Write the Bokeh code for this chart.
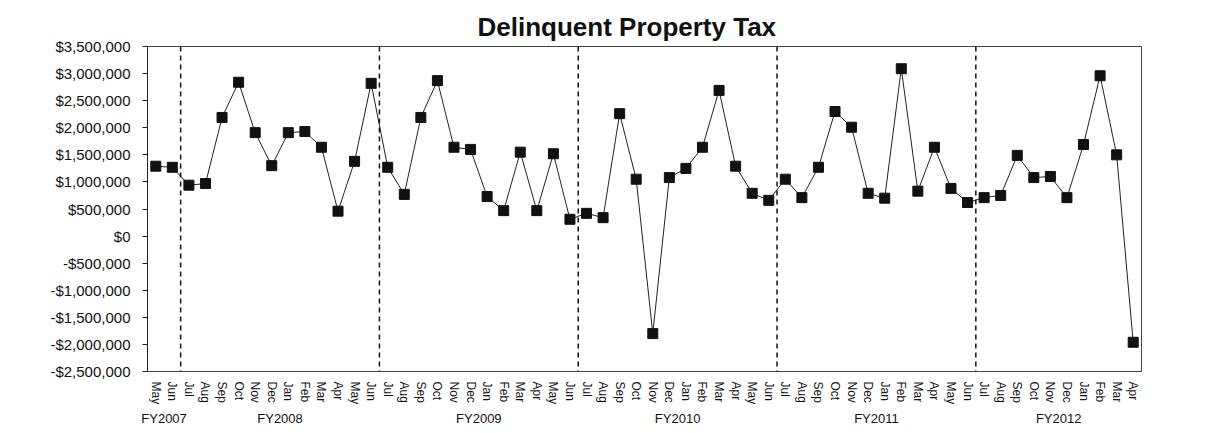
from bokeh.plotting import figure
from bokeh.models import FactorRange, ColumnDataSource, Span, FixedTicker, NumeralTickFormatter
from bokeh.embed import file_html
from bokeh.resources import INLINE

fiscal_years = ["FY2007", "FY2008", "FY2009", "FY2010", "FY2011", "FY2012"]
months_fy2007 = ["May", "Jun"]
months_full = ["Jul", "Aug", "Sep", "Oct", "Nov", "Dec", "Jan", "Feb", "Mar", "Apr", "May", "Jun"]
months_fy2012 = ["Jul", "Aug", "Sep", "Oct", "Nov", "Dec", "Jan", "Feb", "Mar", "Apr"]

values_fy2007 = [1290000, 1270000]
values_fy2008 = [940000, 970000, 2190000, 2840000, 1910000, 1300000, 1910000, 1930000, 1640000, 460000, 1380000, 2820000]
values_fy2009 = [1270000, 770000, 2190000, 2870000, 1640000, 1600000, 730000, 470000, 1550000, 470000, 1520000, 310000]
values_fy2010 = [420000, 340000, 2260000, 1050000, -1800000, 1080000, 1250000, 1640000, 2690000, 1290000, 790000, 660000]
values_fy2011 = [1050000, 710000, 1270000, 2300000, 2010000, 790000, 700000, 3090000, 830000, 1640000, 880000, 620000]
values_fy2012 = [710000, 750000, 1490000, 1080000, 1100000, 710000, 1690000, 2960000, 1500000, -1960000]

y_ticks = [-2500000, -2000000, -1500000, -1000000, -500000, 0, 500000, 1000000,
           1500000, 2000000, 2500000, 3000000, 3500000]

month_groups = [months_fy2007, months_full, months_full, months_full, months_full, months_fy2012]
value_groups = [values_fy2007, values_fy2008, values_fy2009, values_fy2010, values_fy2011, values_fy2012]

factors, ys = [], []
boundaries = []
count = 0
for fy, ms, vs in zip(fiscal_years, month_groups, value_groups):
    for m, v in zip(ms, vs):
        factors.append((fy, m))
        ys.append(v)
    count += len(ms)
    boundaries.append(count)
boundaries = boundaries[:-1]

src = ColumnDataSource(data=dict(x=factors, y=ys))

p = figure(
    width=1222, height=433,
    x_range=FactorRange(*factors, group_padding=0, factor_padding=0, range_padding=0),
    y_range=(y_ticks[0], y_ticks[-1]),
    output_backend="svg", toolbar_location=None,
    min_border_left=147, min_border_right=81, min_border_top=46, min_border_bottom=62,
)

p.title.text = "Delinquent Property Tax"
p.title.text_font = "Liberation Sans"
p.title.text_font_size = "26px"
p.title.text_font_style = "bold"
p.title.text_color = "#111111"
p.title.align = "left"
p.title.offset = 330

p.xgrid.visible = False
p.ygrid.visible = False
p.outline_line_color = "#444444"
p.outline_line_width = 1

for b in boundaries:
    p.add_layout(Span(location=b, dimension="height", line_color="#111111",
                      line_width=1.5, line_dash="5 4"))

p.line(x="x", y="y", source=src, line_color="#222222", line_width=1)
p.scatter(x="x", y="y", source=src, marker="square", size=10,
          fill_color="#111111", line_color="#111111")

p.yaxis.ticker = FixedTicker(ticks=y_ticks)
p.yaxis.formatter = NumeralTickFormatter(format="$0,0")
p.yaxis.major_label_text_font = "Liberation Sans"
p.yaxis.major_label_text_font_size = "15px"
p.yaxis.major_label_text_color = "#111111"
p.yaxis.axis_line_color = "#222222"
p.yaxis.major_tick_line_color = "#222222"
p.yaxis.major_tick_out = 5
p.yaxis.major_tick_in = 0
p.yaxis.minor_tick_line_color = None
p.yaxis.major_label_standoff = 12

p.xaxis.major_label_orientation = "vertical"
p.xaxis.major_label_text_font = "Liberation Sans"
p.xaxis.major_label_text_font_size = "12px"
p.xaxis.major_label_text_color = "#111111"
p.xaxis.group_text_font = "Liberation Sans"
p.xaxis.group_text_font_size = "13px"
p.xaxis.group_text_font_style = "normal"
p.xaxis.group_text_color = "#111111"
p.xaxis.group_label_orientation = "horizontal"
p.xaxis.separator_line_color = None
p.xaxis.major_tick_line_color = None
p.xaxis.minor_tick_line_color = None
p.xaxis.axis_line_color = "#444444"
p.xaxis.major_label_standoff = 4

open("out.html", "w").write(file_html(p, INLINE))
